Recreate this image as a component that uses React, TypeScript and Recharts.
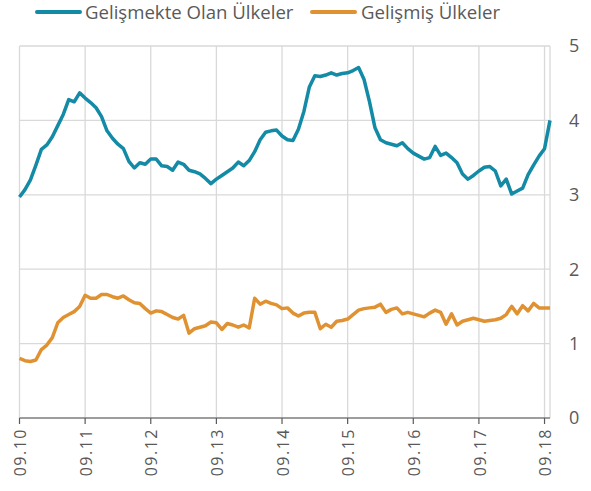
import React from 'react';
import { LineChart, Line, XAxis, YAxis, CartesianGrid } from 'recharts';

// Monthly values, 09.2010 .. 10.2018
const developing = [
  2.97, 3.07, 3.2, 3.4, 3.61, 3.67, 3.78, 3.93, 4.08, 4.28, 4.25, 4.37,
  4.3, 4.24, 4.17, 4.05, 3.86, 3.76, 3.68, 3.62, 3.45, 3.36, 3.43, 3.41,
  3.48, 3.48, 3.39, 3.38, 3.33, 3.44, 3.41, 3.33, 3.31, 3.28, 3.22, 3.15,
  3.21, 3.26, 3.31, 3.36, 3.44, 3.39, 3.46, 3.58, 3.74, 3.84, 3.86, 3.87,
  3.79, 3.74, 3.73, 3.88, 4.12, 4.45, 4.6, 4.59, 4.61, 4.64, 4.61, 4.63,
  4.64, 4.67, 4.71, 4.55, 4.25, 3.9, 3.74, 3.7, 3.68, 3.66, 3.7, 3.62,
  3.56, 3.52, 3.48, 3.5, 3.65, 3.53, 3.56, 3.5, 3.43, 3.28, 3.21, 3.26,
  3.32, 3.37, 3.38, 3.32, 3.12, 3.21, 3.01, 3.05, 3.09, 3.27, 3.4, 3.52,
  3.62, 4.0,
];

const developed = [
  0.8, 0.77, 0.76, 0.78, 0.92, 0.98, 1.08, 1.28, 1.35, 1.39, 1.43, 1.5,
  1.65, 1.61, 1.61, 1.66, 1.66, 1.63, 1.61, 1.64, 1.59, 1.55, 1.54, 1.47,
  1.41, 1.44, 1.43, 1.39, 1.35, 1.33, 1.38, 1.14, 1.2, 1.22, 1.24, 1.29,
  1.28, 1.19, 1.27, 1.25, 1.22, 1.25, 1.21, 1.61, 1.53, 1.57, 1.54, 1.52,
  1.47, 1.48, 1.41, 1.37, 1.41, 1.42, 1.42, 1.2, 1.26, 1.22, 1.3, 1.31,
  1.33, 1.39, 1.45, 1.47, 1.48, 1.49, 1.53, 1.42, 1.46, 1.48, 1.4, 1.42,
  1.4, 1.38, 1.36, 1.41, 1.45, 1.42, 1.26, 1.4, 1.25, 1.3, 1.32, 1.34,
  1.32, 1.3, 1.31, 1.32, 1.34, 1.39, 1.5, 1.4, 1.51, 1.44, 1.54, 1.48,
  1.48, 1.48,
];

const tickLabels = ['09.10', '09.11', '09.12', '09.13', '09.14', '09.15', '09.16', '09.17', '09.18'];
const yTicks = [0, 1, 2, 3, 4, 5];
const seriesNames = ['Gelişmekte Olan Ülkeler', 'Gelişmiş Ülkeler'];

const TEAL = '#138aa6';
const ORANGE = '#e09232';
const TEXT = '#595959';
const FONT = '"Open Sans", sans-serif';

const data = developing.map((v, i) => ({ m: i, dev: v, adv: developed[i] }));
const xTicks = tickLabels.map((_, i) => i * 12);

const XTick = (props: any) => {
  const { x, y, payload } = props;
  const label = tickLabels[Math.round(payload.value / 12)];
  return (
    <g transform={`translate(${x},${y})`}>
      <text
        transform="rotate(-90)"
        x={-2}
        y={0}
        dy="0.42em"
        textAnchor="end"
        fill={TEXT}
        fontSize={16}
        letterSpacing={1.5}
        fontFamily={FONT}
      >
        {label}
      </text>
    </g>
  );
};

const YTick = (props: any) => {
  const { x, y, payload } = props;
  return (
    <text x={x + 11} y={y} dy="0.36em" textAnchor="start" fill={TEXT} fontSize={18} fontFamily={FONT}>
      {payload.value}
    </text>
  );
};

export default function App() {
  return (
    <div style={{ position: 'absolute', left: 0, top: 0, width: 591, height: 491, background: '#fff' }}>
      <div style={{ position: 'absolute', left: 0, top: 0, height: 24, width: 591, fontFamily: FONT, fontSize: 18.6, color: TEXT }}>
        <div style={{ position: 'absolute', left: 35, top: 10, width: 47, height: 4, background: TEAL, borderRadius: 2 }} />
        <div style={{ position: 'absolute', left: 85, top: 0, lineHeight: '24px', whiteSpace: 'nowrap' }}>{seriesNames[0]}</div>
        <div style={{ position: 'absolute', left: 310, top: 10, width: 47, height: 4, background: ORANGE, borderRadius: 2 }} />
        <div style={{ position: 'absolute', left: 361, top: 0, lineHeight: '24px', whiteSpace: 'nowrap' }}>{seriesNames[1]}</div>
      </div>
      <LineChart width={591} height={491} data={data} margin={{ top: 46, right: 0, bottom: 0, left: 19.5 }}>
        <CartesianGrid stroke="#d9d9d9" strokeWidth={1.3} />
        <XAxis
          dataKey="m"
          type="number"
          domain={[0, 97]}
          ticks={xTicks}
          interval={0}
          height={73}
          tick={<XTick />}
          tickSize={6}
          tickMargin={2}
          axisLine={{ stroke: TEXT, strokeWidth: 1.2 }}
          tickLine={{ stroke: TEXT, strokeWidth: 1.2 }}
        />
        <YAxis
          orientation="right"
          domain={[0, 5]}
          ticks={yTicks}
          width={41}
          axisLine={false}
          tickLine={false}
          tick={<YTick />}
        />
        <Line type="linear" dataKey="dev" stroke={TEAL} strokeWidth={3.5} dot={false} isAnimationActive={false} strokeLinejoin="round" />
        <Line type="linear" dataKey="adv" stroke={ORANGE} strokeWidth={3.5} dot={false} isAnimationActive={false} strokeLinejoin="round" />
      </LineChart>
    </div>
  );
}
